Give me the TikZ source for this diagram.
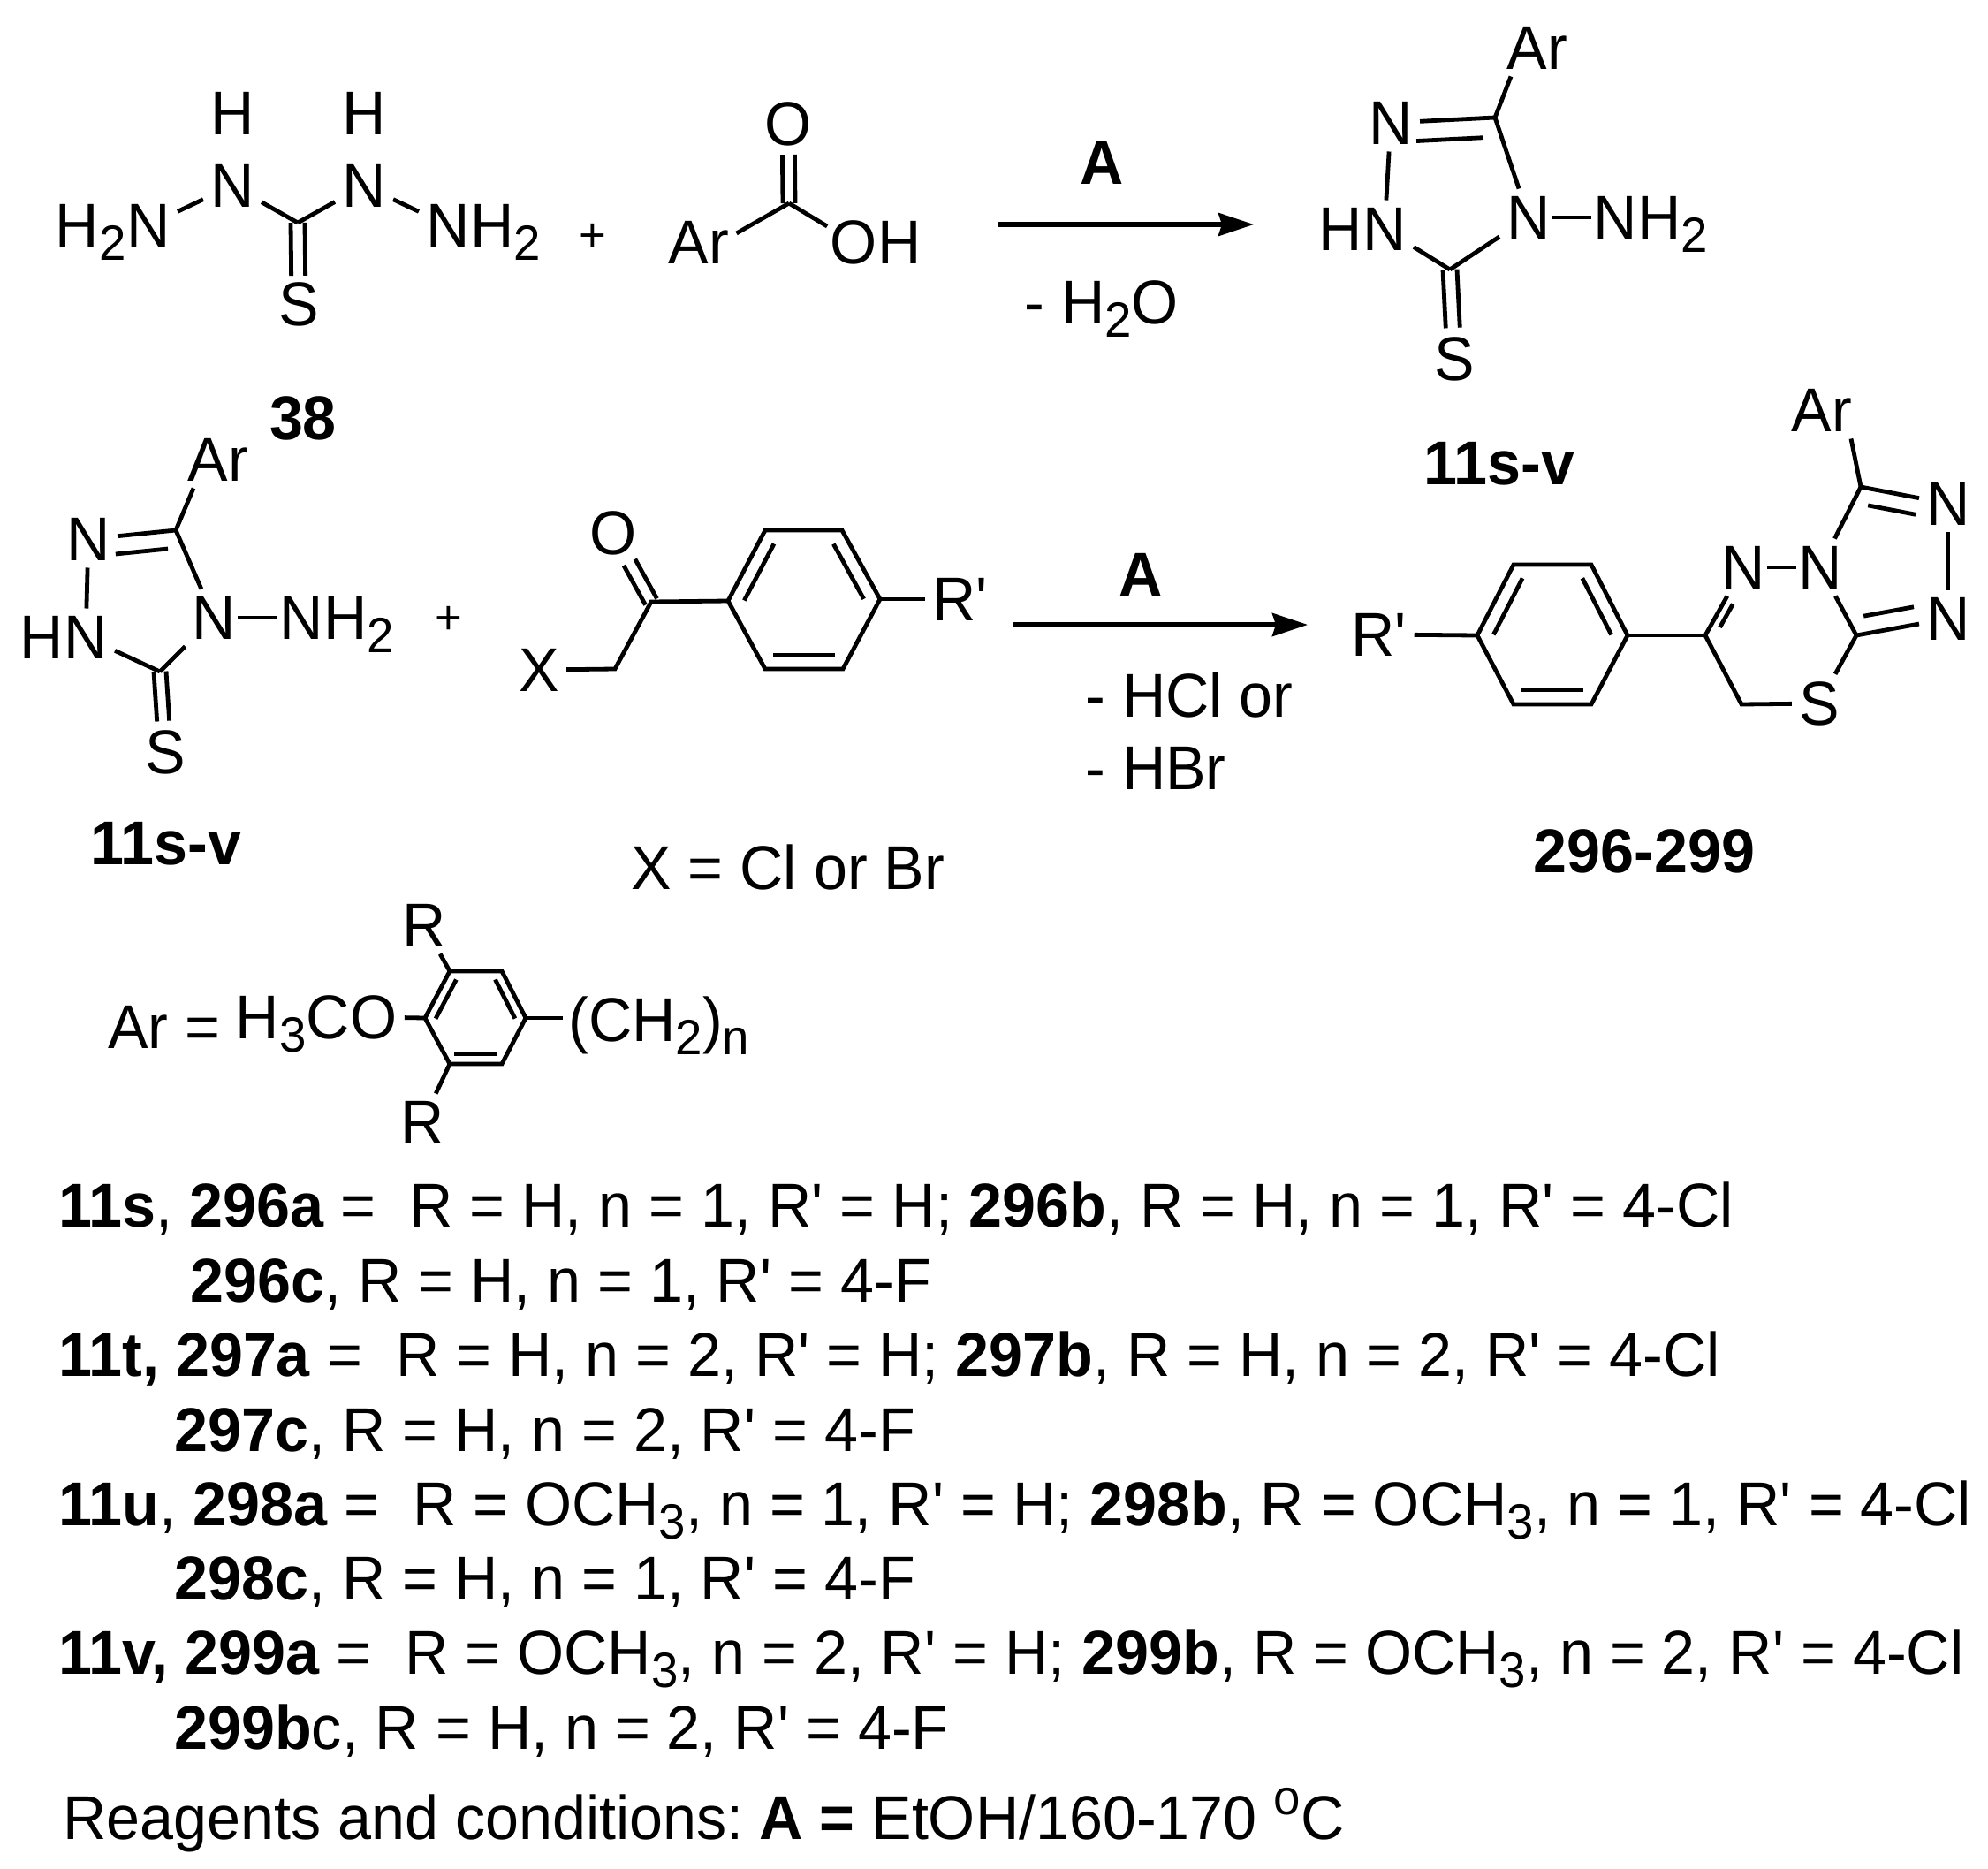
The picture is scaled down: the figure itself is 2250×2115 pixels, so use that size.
\documentclass[tikz,border=0pt]{standalone}
\usepackage{fontspec}
\setmainfont[FakeStretch=0.975]{Liberation Sans}
\usetikzlibrary{positioning,calc,arrows.meta}

\newcommand{\lowidx}[1]{\raisebox{-7.5pt}[0pt][0pt]{\fontsize{28}{28}\selectfont #1}}
\newcommand{\degsup}{\raisebox{14pt}{\fontsize{28}{28}\selectfont o}}
\newcommand{\Rp}{R\textquotesingle}
\newcommand{\dbl}[5]{\draw[bond,shorten <=#4,shorten >=#5] ($(#1.center)!#3!-90:(#2.center)$) -- ($(#2.center)!#3!90:(#1.center)$);}

\tikzset{
  every node/.style={font=\fontsize{35}{42}\selectfont},
  atom/.style={inner sep=4pt},
  tail/.style={inner sep=0pt},
  txt/.style={anchor=base west,inner sep=0pt},
  lab/.style={inner sep=0pt,font=\fontsize{35}{42}\selectfont\bfseries},
  plus/.style={font=\fontsize{27}{32}\selectfont},
  bond/.style={line width=2.4pt},
  hbond/.style={bond,shorten <=-3pt,shorten >=-3pt},
  rxn/.style={line width=2.6pt,-{Stealth[length=20pt,width=13pt,inset=2pt]}}
}

\begin{document}
\begin{tikzpicture}[x=0.5pt,y=-0.5pt]
\useasboundingbox (0,0) rectangle (2250,2115);

\node[atom] (hA) at (263,128) {H};
\node[atom] (hB) at (412,128) {H};
\node[atom] (nA) at (263,210) {N};
\node[atom] (nB) at (412,210) {N};
\node[atom] (nC) at (168,255) {N};
\node[atom] (nD) at (507,255) {N};
\node[tail,left=-4pt of nC] (hC) {H\lowidx{2}};
\node[tail,right=-4pt of nD] (hD) {H\lowidx{2}};
\coordinate (cA) at (337,252);
\node[atom] (sA) at (338,344) {S};
\draw[bond] (nC) -- (nA);
\draw[bond] (nB) -- (nD);
\draw[bond] (nA) -- (cA);
\draw[bond] (nB) -- (cA);
\dbl{cA}{sA}{4pt}{0pt}{16pt}
\dbl{cA}{sA}{-4pt}{0pt}{16pt}
\node[lab] (lblA) at (343,473) {38};

\node[plus] (plusA) at (671,269) {+};

\coordinate (cB) at (893,230);
\node[atom] (oA) at (892,140) {O};
\node[atom] (arA) at (791,274) {Ar};
\node[atom] (oB) at (966,274) {O};
\node[tail,right=-4pt of oB] (hE) {H};
\draw[bond] (cB) -- ([yshift=5pt]arA.east);
\draw[bond,shorten >=-3pt] (cB) -- (oB);
\dbl{cB}{oA}{3.5pt}{0pt}{17.5pt}
\dbl{cB}{oA}{-3.5pt}{0pt}{17.5pt}

\coordinate (arwAs) at (1129,254);
\coordinate (arwAe) at (1419,254);
\draw[rxn] (arwAs) -- (arwAe);
\node[lab] (condA) at (1247,184) {A};
\node[txt] (condB) at (1159,366) {- H\lowidx{2}O};

\node[atom] (arB) at (1740,54) {Ar};
\coordinate (cC) at (1692,133);
\coordinate (cD) at (1641,305);
\node[atom] (nE) at (1574,139) {N};
\node[atom] (nF) at (1567,259) {N};
\node[tail,left=-4pt of nF] (hF) {H};
\node[atom] (nG) at (1730,246) {N};
\node[atom] (nH) at (1828,246) {N};
\node[tail,right=-4pt of nH] (hG) {H\lowidx{2}};
\node[atom] (sB) at (1646,406) {S};
\draw[bond] (cC) -- ([xshift=-15pt]arB.south);
\draw[bond] (nE) -- (cC);
\dbl{nE}{cC}{11pt}{14pt}{7.5pt}
\draw[bond] (nE) -- (nF);
\draw[bond] (cC) -- (nG);
\draw[hbond] (nG) -- (nH);
\draw[bond] (nF) -- (cD);
\draw[bond] (nG) -- (cD);
\dbl{cD}{sB}{4pt}{0pt}{17.5pt}
\dbl{cD}{sB}{-4pt}{0pt}{17.5pt}
\node[lab] (lblB) at (1697,525) {11s-v};

\node[atom] (arC) at (247,520) {Ar};
\coordinate (cE) at (199,600);
\coordinate (cF) at (181,760);
\node[atom] (nI) at (100,610) {N};
\node[atom] (nJ) at (97,721) {N};
\node[tail,left=-4pt of nJ] (hH) {H};
\node[atom] (nK) at (242,699) {N};
\node[atom] (nL) at (341,699) {N};
\node[tail,right=-4pt of nL] (hI) {H\lowidx{2}};
\node[atom] (sC) at (187,851) {S};
\draw[bond] (cE) -- ([xshift=-14pt]arC.south);
\draw[bond] (nI) -- (cE);
\dbl{nI}{cE}{10pt}{14.5pt}{5.5pt}
\draw[bond] (nI) -- (nJ);
\draw[bond] (cE) -- (nK);
\draw[hbond] (nK) -- (nL);
\draw[bond] (nJ) -- (cF);
\draw[bond] (nK) -- (cF);
\dbl{cF}{sC}{3.5pt}{0pt}{17.5pt}
\dbl{cF}{sC}{-3.5pt}{0pt}{17.5pt}
\node[lab] (lblC) at (188,955) {11s-v};

\node[plus] (plusB) at (508,702) {+};

\node[atom] (xA) at (610,758) {X};
\coordinate (cG) at (696,757);
\coordinate (cH) at (737,681);
\node[atom] (oC) at (694,603) {O};
\coordinate (rAa) at (866,600);
\coordinate (rAb) at (953,600);
\coordinate (rAc) at (996,678);
\coordinate (rAd) at (954,757);
\coordinate (rAe) at (866,757);
\coordinate (rAf) at (824,680);
\node[atom] (rpA) at (1087,678) {\Rp};
\draw[bond] (xA) -- (cG) -- (cH) -- (rAf);
\dbl{cH}{oC}{3.7pt}{0pt}{19pt}
\dbl{cH}{oC}{-3.7pt}{0pt}{19pt}
\draw[bond] (rAa) -- (rAb) -- (rAc) -- (rAd) -- (rAe) -- (rAf) -- cycle;
\dbl{rAf}{rAa}{8pt}{4.5pt}{4.5pt}
\dbl{rAb}{rAc}{8pt}{4.5pt}{4.5pt}
\dbl{rAd}{rAe}{8pt}{4.5pt}{4.5pt}
\draw[bond] (rAc) -- (rpA);
\node[txt] (xB) at (714,1006) {X = Cl or Br};

\coordinate (arwBs) at (1147,707);
\coordinate (arwBe) at (1480,707);
\draw[rxn] (arwBs) -- (arwBe);
\node[lab] (condC) at (1291,650) {A};
\node[txt] (condD) at (1228,811) {- HCl or};
\node[txt] (condE) at (1228,893) {- HBr};

\node[atom] (rpB) at (1561,718) {\Rp};
\coordinate (rBa) at (1713,639);
\coordinate (rBb) at (1801,639);
\coordinate (rBc) at (1842,719);
\coordinate (rBd) at (1801,797);
\coordinate (rBe) at (1713,797);
\coordinate (rBf) at (1672,719);
\coordinate (cI) at (1930,719);
\coordinate (cJ) at (1971,797);
\coordinate (cK) at (2101,719);
\coordinate (cL) at (2106,551);
\node[atom] (nM) at (1973,642) {N};
\node[atom] (nN) at (2060,642) {N};
\node[atom] (sD) at (2059,796) {S};
\node[atom] (nO) at (2205,570) {N};
\node[atom] (nP) at (2205,700) {N};
\node[atom] (arD) at (2062,464) {Ar};
\draw[bond] (rBa) -- (rBb) -- (rBc) -- (rBd) -- (rBe) -- (rBf) -- cycle;
\dbl{rBf}{rBa}{8pt}{4.5pt}{4.5pt}
\dbl{rBb}{rBc}{8pt}{4.5pt}{4.5pt}
\dbl{rBd}{rBe}{8pt}{4.5pt}{4.5pt}
\draw[bond] (rpB) -- (rBf);
\draw[bond] (rBc) -- (cI);
\draw[bond] (cI) -- (nM);
\dbl{cI}{nM}{5pt}{8pt}{21pt}
\draw[bond] (cI) -- (cJ) -- (sD);
\draw[hbond] (nM) -- (nN);
\draw[bond] (cK) -- (sD);
\draw[bond] (cK) -- (nN);
\draw[bond] (cK) -- (nP);
\dbl{cK}{nP}{-10pt}{6pt}{18pt}
\draw[bond] (nN) -- (cL);
\draw[bond] (cL) -- (nO);
\dbl{cL}{nO}{9.5pt}{6pt}{17pt}
\draw[bond] (nO) -- (nP);
\draw[bond] (cL) -- ([xshift=16.5pt]arD.south);
\node[lab] (lblD) at (1861,963) {296-299};

\node[txt] (arE) at (122,1186) {Ar =};
\node[atom] (oD) at (423,1151) {O};
\node[tail,left=-4pt of oD] (hJ) {H\lowidx{3}C};
\coordinate (rCa) at (509,1099);
\coordinate (rCb) at (568,1099);
\coordinate (rCc) at (595,1152);
\coordinate (rCd) at (568,1204);
\coordinate (rCe) at (509,1204);
\coordinate (rCf) at (481,1152);
\node[atom] (rA) at (480,1047) {R};
\node[atom] (rB) at (478,1270) {R};
\node[txt] (chainA) at (643,1178) {(CH\lowidx{2})\lowidx{n}};
\draw[bond] (rCa) -- (rCb) -- (rCc) -- (rCd) -- (rCe) -- (rCf) -- cycle;
\dbl{rCf}{rCa}{5.5pt}{2.5pt}{2.5pt}
\dbl{rCb}{rCc}{5.5pt}{2.5pt}{2.5pt}
\dbl{rCd}{rCe}{5.5pt}{2.5pt}{2.5pt}
\draw[bond] (oD) -- (rCf);
\draw[bond] (rCa) -- (rA);
\draw[bond] (rCe) -- (rB);
\draw[bond,shorten >=3pt] (rCc) -- (rCc -| chainA.west);

\node[txt] (lnA) at (66,1388) {\textbf{11s}, \textbf{296a} = \ R = H, n = 1, \Rp\ = H; \textbf{296b}, R = H, n = 1, \Rp\ = 4-Cl};
\node[txt] (lnB) at (215,1473) {\textbf{296c}, R = H, n = 1, \Rp\ = 4-F};
\node[txt] (lnC) at (66,1557) {\textbf{11t, 297a} = \ R = H, n = 2, \Rp\ = H; \textbf{297b}, R = H, n = 2, \Rp\ = 4-Cl};
\node[txt] (lnD) at (197,1642) {\textbf{297c}, R = H, n = 2, \Rp\ = 4-F};
\node[txt] (lnE) at (66,1726) {\textbf{11u}, \textbf{298a} = \ R = OCH\lowidx{3}, n = 1, \Rp\ = H; \textbf{298b}, R = OCH\lowidx{3}, n = 1, \Rp\ = 4-Cl};
\node[txt] (lnF) at (197,1810) {\textbf{298c}, R = H, n = 1, \Rp\ = 4-F};
\node[txt] (lnG) at (66,1894) {\textbf{11v, 299a} = \ R = OCH\lowidx{3}, n = 2, \Rp\ = H; \textbf{299b}, R = OCH\lowidx{3}, n = 2, \Rp\ = 4-Cl};
\node[txt] (lnH) at (197,1979) {\textbf{299b}c, R = H, n = 2, \Rp\ = 4-F};
\node[txt] (lnI) at (71,2081) {Reagents and conditions:\hspace*{-0.6pt} \textbf{A =} EtOH/160-170 \degsup C};
\end{tikzpicture}
\end{document}
